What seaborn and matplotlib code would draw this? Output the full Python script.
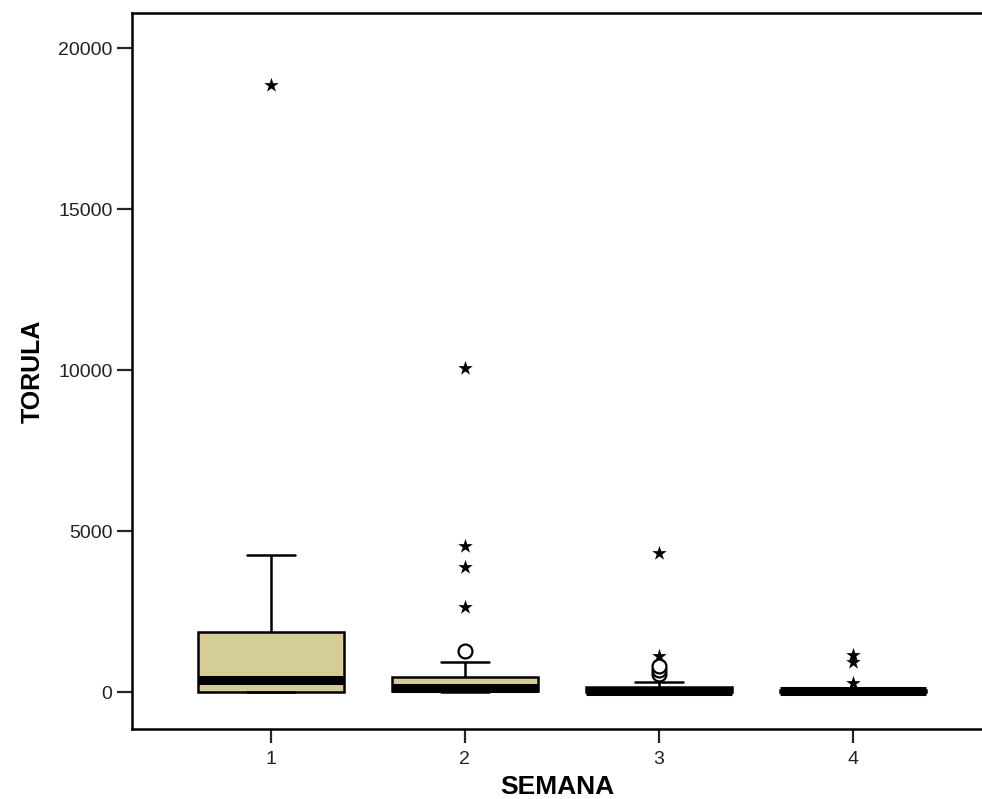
import numpy as np
import pandas as pd
import matplotlib.pyplot as plt
import seaborn as sns

sns.set_style('white')
plt.rcParams['font.family'] = ['Liberation Sans', 'DejaVu Sans']

# Box summary per week (min whisker, Q1, median, Q3, max whisker)
semanas = ['1', '2', '3', '4']
whisker_lo = [0, 0, 0, 0]
q1 = [10, 20, 0, 0]
median = [380, 120, 40, 20]
q3 = [1860, 480, 150, 70]
whisker_hi = [4250, 930, 310, 100]

# Outliers: circles (mild) and stars (extreme)
mild_semana = ['2', '3', '3', '3']
mild_vals = [1270, 560, 680, 800]
extreme_semana = ['1', '2', '2', '2', '2', '3', '3', '4', '4', '4']
extreme_vals = [18850, 10070, 4530, 3880, 2640, 4320, 1120, 1150, 930, 280]

rows = []
for i, s in enumerate(semanas):
    for v in [whisker_lo[i], q1[i], median[i], q3[i], whisker_hi[i]]:
        rows.append({'SEMANA': s, 'TORULA': v})
box_df = pd.DataFrame(rows)
mild_df = pd.DataFrame({'SEMANA': mild_semana, 'TORULA': mild_vals})
ext_df = pd.DataFrame({'SEMANA': extreme_semana, 'TORULA': extreme_vals})

fig = plt.figure(figsize=(9.82, 7.99), dpi=100)
ax = fig.add_axes([0.1344, 0.0876, 0.8656, 0.8961])

sns.boxplot(data=box_df, x='SEMANA', y='TORULA', order=semanas,
            color='#d4cd96', saturation=1, width=0.75, whis=(0, 100),
            showfliers=False, linecolor='black', linewidth=1.8,
            capwidths=0.25,
            medianprops={'linewidth': 6.5, 'color': 'black'}, ax=ax)

sns.stripplot(data=mild_df, x='SEMANA', y='TORULA', order=semanas, jitter=False,
              marker='o', s=10, color='white', edgecolor='black', linewidth=1.6, ax=ax)
sns.stripplot(data=ext_df, x='SEMANA', y='TORULA', order=semanas, jitter=False,
              marker='*', s=11, color='black', linewidth=0, ax=ax)

ax.set_xlim(-0.716, 3.665)
ax.set_ylim(-1149, 21087)
ax.set_yticks([0, 5000, 10000, 15000, 20000])
ax.set_xlabel('SEMANA', fontsize=19, fontweight='bold', labelpad=5, color='black')
ax.set_ylabel('TORULA', fontsize=18, fontweight='bold', labelpad=10, color='black')

for side in ['left', 'top', 'bottom']:
    ax.spines[side].set_visible(True)
    ax.spines[side].set_linewidth(1.8)
    ax.spines[side].set_color('black')
ax.spines['right'].set_visible(False)
ax.tick_params(axis='y', which='major', length=11, width=1.6, labelsize=14,
               left=True, pad=3, labelcolor='#222222')
ax.tick_params(axis='x', which='major', length=10, width=1.6, labelsize=14,
               bottom=True, pad=6, labelcolor='#222222')

fig.savefig('out.png', dpi=100)
